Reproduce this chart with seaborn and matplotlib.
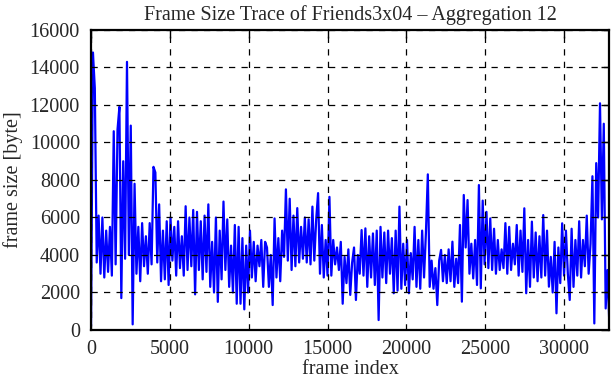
import numpy as np
import pandas as pd
import matplotlib
matplotlib.use("Agg")
import matplotlib.pyplot as plt
import seaborn as sns

# ---- data ----
title = "Frame Size Trace of Friends3x04 \u2013 Aggregation 12"
x_label = "frame index"
y_label = "frame size [byte]"
frame_step = 120          # spacing of the sampled points along the frame index
x_ticks = [0, 5000, 10000, 15000, 20000, 25000, 30000]
y_ticks = [0, 2000, 4000, 6000, 8000, 10000, 12000, 14000, 16000]
x_max = 32850
y_max = 16000

sizes_0_5k = [200, 14800, 12900, 3600, 6100, 3000, 6000, 2800, 5300, 3100,
              5500, 2900, 10600, 3500, 10700, 11900, 1700, 9000, 3800, 14300,
              4000, 10900, 300, 7800, 3000, 5500, 2600, 5700, 3400, 5000,
              3000, 5700, 3500, 8700, 8400, 3600, 6700, 2600, 5300, 2700,
              5800, 2400, 6000, 3700, 5500, 2900]
sizes_5k_11k = [5800, 3300, 5000, 2900, 6600, 3200, 6000, 3400, 6400, 1900,
                6300, 3200, 5800, 2700, 6100, 3100, 6700, 2300, 4700, 2000,
                6000, 1500, 5300, 2700, 6850, 3200, 5900, 2300, 4500, 2000,
                5600, 1400, 5500, 1400, 4900, 1100, 4500, 2000, 5300, 2800,
                4700, 2600, 4500, 3400, 4800, 2300, 4700]
sizes_11k_16k = [4400, 2300, 4000, 1330, 5950, 2800, 4900, 2600, 5300, 3900,
                 7500, 3700, 7000, 3200, 6100, 3400, 6500, 3600, 5500, 3800,
                 6000, 3600, 5900, 3500, 6580, 3700, 5900, 7300, 3000, 5600,
                 2800, 4800, 2900, 7100, 2900, 4800, 3500, 4400, 3200, 4700,
                 1400, 3900, 2500, 4300, 1870, 3600]
sizes_16k_22k = [4400, 1600, 4000, 3000, 5330, 2900, 5420, 2300, 5000, 2800,
                 5150, 2400, 5300, 530, 5500, 2800, 5200, 2500, 5300, 3000,
                 4900, 1960, 5300, 2100, 6580, 2200, 4600, 2400, 4800, 1960,
                 4100, 2700, 5500, 2300, 4800, 2200, 5300, 2800, 5200, 8300,
                 2300, 3700, 2200, 3300, 1330, 3700]
sizes_22k_27k = [4270, 2600, 4000, 2500, 4300, 2600, 4710, 2300, 3800, 2500,
                 5600, 1510, 7200, 4400, 6930, 3000, 4600, 2750, 4800, 2400,
                 7730, 2220, 6900, 3500, 6300, 3300, 5950, 3200, 5400, 3000,
                 4800, 3200, 4300, 3300, 5700, 3000, 5500, 3200, 4600, 3500,
                 5600, 2900, 5300, 3100, 6490, 1960]
sizes_27k_end = [4800, 2300, 5780, 2800, 5200, 2600, 5000, 2800, 6130, 2900,
                 5300, 2310, 3900, 2000, 4700, 890, 4400, 2500, 5690, 2900,
                 5300, 3000, 1600, 5400, 2300, 4800, 2900, 5800, 2800, 4800,
                 3400, 6100, 3000, 4600, 8200, 350, 8900, 6000, 12090, 5900,
                 11000, 1150, 3200, 100]

frame_sizes = (sizes_0_5k + sizes_5k_11k + sizes_11k_16k
               + sizes_16k_22k + sizes_22k_27k + sizes_27k_end)
frame_index = np.arange(len(frame_sizes)) * frame_step

df = pd.DataFrame({"frame index": frame_index, "frame size": frame_sizes})

# ---- plot ----
sns.set_style("white")
plt.rcParams["font.family"] = ["Liberation Serif", "DejaVu Serif"]

FS = 14.5
fig = plt.figure(figsize=(6.11, 3.80), dpi=100)
ax = fig.add_axes([0.149, 0.1316, 0.8477, 0.7895])

sns.lineplot(data=df, x="frame index", y="frame size", ax=ax,
             color="#0000ff", linewidth=1.6, estimator=None, sort=False)

ax.set_xlim(0, x_max)
ax.set_ylim(0, y_max)
ax.set_xticks(x_ticks)
ax.set_yticks(y_ticks)
ax.set_xticklabels([str(t) for t in x_ticks])
ax.set_yticklabels([str(t) for t in y_ticks])

ax.set_axisbelow(False)
ax.grid(True, color="black", linestyle=(0, (5, 5)), linewidth=0.9)

for s in ax.spines.values():
    s.set_visible(True)
    s.set_color("black")
    s.set_linewidth(1.6)

ax.tick_params(axis="both", which="major", direction="in", length=6,
               width=1.0, color="black", labelsize=FS,
               top=True, right=True, labeltop=False, labelright=False)
ax.tick_params(axis="y", pad=8)
ax.tick_params(axis="x", pad=7)

ax.set_title(title, fontsize=FS, pad=7)
ax.set_xlabel(x_label, fontsize=FS, labelpad=1)
ax.set_ylabel(y_label, fontsize=FS, labelpad=5)

fig.savefig("out.png", dpi=100)
